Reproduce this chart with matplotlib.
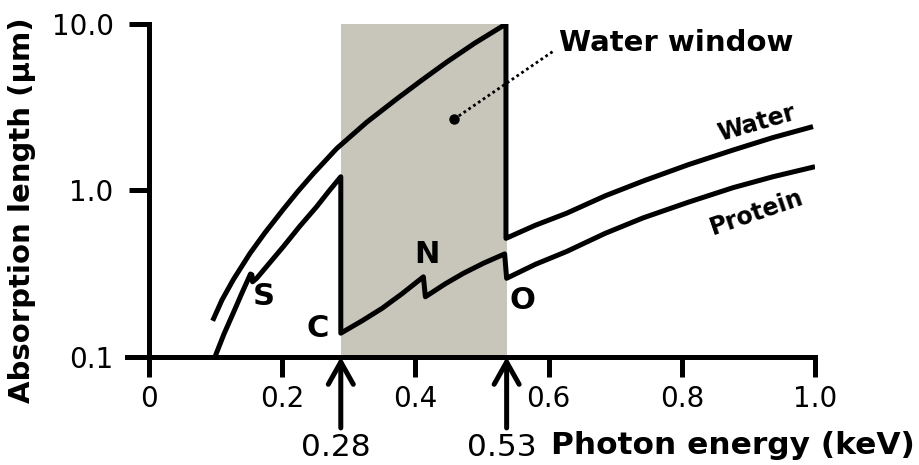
import matplotlib
matplotlib.use('Agg')
import matplotlib.pyplot as plt

plt.rcParams['font.family'] = ['DejaVu Sans']

# ---- data ----
water_x = [0.0956, 0.1096, 0.1266, 0.1517, 0.1742, 0.2017, 0.2237, 0.2467, 0.2818,
           0.3269, 0.372, 0.4084, 0.447, 0.4895, 0.536,
           0.536, 0.58, 0.627, 0.685, 0.742, 0.81, 0.877, 0.937, 0.997]
water_y = [0.165, 0.220, 0.2914, 0.4194, 0.558, 0.771, 0.989, 1.262, 1.786,
           2.570, 3.548, 4.560, 5.902, 7.691, 10.0,
           0.516, 0.618, 0.73, 0.929, 1.14, 1.43, 1.75, 2.08, 2.42]

protein_x = [0.099, 0.1126, 0.1266, 0.1396, 0.1524, 0.1545, 0.1555, 0.1617,
             0.2017, 0.2267, 0.2518, 0.2703, 0.288, 0.288,
             0.32, 0.35, 0.38, 0.412, 0.415, 0.4444, 0.472, 0.503, 0.534,
             0.537, 0.58, 0.627, 0.685, 0.742, 0.81, 0.877, 0.937, 1.0]
protein_y = [0.100, 0.1374, 0.184, 0.2424, 0.315, 0.312, 0.283, 0.297,
             0.46, 0.612, 0.80, 0.993, 1.21, 0.139,
             0.165, 0.196, 0.240, 0.303, 0.230, 0.2744, 0.318, 0.367, 0.416,
             0.297, 0.360, 0.43, 0.553, 0.685, 0.851, 1.04, 1.21, 1.39]

window_edges = [0.288, 0.537]          # shaded water window (keV)
edge_labels = ['0.28', '0.53']
edge_label_x = [0.28, 0.53]

edge_names = ['S', 'C', 'N', 'O']
edge_name_x = [0.1716, 0.254, 0.418, 0.561]
edge_name_y = [0.230, 0.149, 0.41, 0.217]

xticks = [0, 0.2, 0.4, 0.6, 0.8, 1.0]
xticklabels = ['0', '0.2', '0.4', '0.6', '0.8', '1.0']
yticks = [0.1, 1.0, 10.0]
yticklabels = ['0.1', '1.0', '10.0']

# ---- figure ----
W, H = 920, 465
fig = plt.figure(figsize=(W / 100, H / 100), dpi=100)
ax = fig.add_axes([127 / W, 1 - 357 / H, (815 - 127) / W, (357 - 24) / H])

LW = 3.6
ax.set_yscale('log')
ax.set_xlim(-0.033, 1.0)
ax.set_ylim(0.1, 10.0)

ax.axvspan(window_edges[0], window_edges[1], color='#c8c6bb', lw=0, zorder=0)

ax.plot(water_x, water_y, color='black', lw=LW, solid_joinstyle='round',
        solid_capstyle='butt', zorder=3)
ax.plot(protein_x, protein_y, color='black', lw=LW, solid_joinstyle='round',
        solid_capstyle='butt', zorder=3)

for s in ['top', 'right']:
    ax.spines[s].set_visible(False)
ax.spines['left'].set_position(('data', 0))
for s in ['left', 'bottom']:
    ax.spines[s].set_linewidth(LW)
    ax.spines[s].set_zorder(4)

ax.set_xticks(xticks)
ax.set_xticklabels(xticklabels)
ax.set_yticks(yticks)
ax.set_yticklabels(yticklabels)
ax.minorticks_off()
ax.tick_params(axis='both', length=14.4, width=LW, labelsize=20)
ax.tick_params(axis='x', pad=6)
ax.tick_params(axis='y', pad=11)

# edge letters
for name, x, y in zip(edge_names, edge_name_x, edge_name_y):
    ax.text(x, y, name, fontsize=22, fontweight='bold', ha='center', va='center', zorder=5)

# curve labels
ax.text(0.9125, 2.54, 'Water', fontsize=17, fontweight='bold', rotation=16,
        ha='center', va='center')
ax.text(0.912, 0.737, 'Protein', fontsize=17, fontweight='bold', rotation=19,
        ha='center', va='center')

# water window annotation
ax.plot([0.458, 0.6096], [2.68, 6.98], color='black', lw=2.0,
        linestyle=(0, (1, 1.1)), zorder=5)
ax.plot([0.458], [2.68], marker='o', ms=6.5, color='black', zorder=5)
ax.text(0.791, 7.7, 'Water window', fontsize=21, fontweight='bold',
        ha='center', va='center')

# arrows with edge energies
trans = ax.get_xaxis_transform()
for ex, lab, lx in zip(window_edges, edge_labels, edge_label_x):
    ax.annotate('', xy=(ex, 0.0), xycoords=trans,
                xytext=(ex, -0.213), textcoords=trans,
                arrowprops=dict(arrowstyle='->,head_length=0.8,head_width=0.45',
                                lw=LW, color='black', shrinkA=0, shrinkB=0,
                                mutation_scale=20),
                annotation_clip=False)
    ax.text(lx, -0.273, lab, transform=trans, fontsize=22.5, ha='center',
            va='center', clip_on=False)

fig.text(915 / W, 1 - 445 / H, 'Photon energy (keV)', fontsize=22.5,
         fontweight='bold', ha='right', va='center')
fig.text(22 / W, 1 - 210 / H, 'Absorption length (\u03bcm)', fontsize=21,
         fontweight='bold', rotation=90, ha='center', va='center')

fig.savefig('out.png', dpi=100)
